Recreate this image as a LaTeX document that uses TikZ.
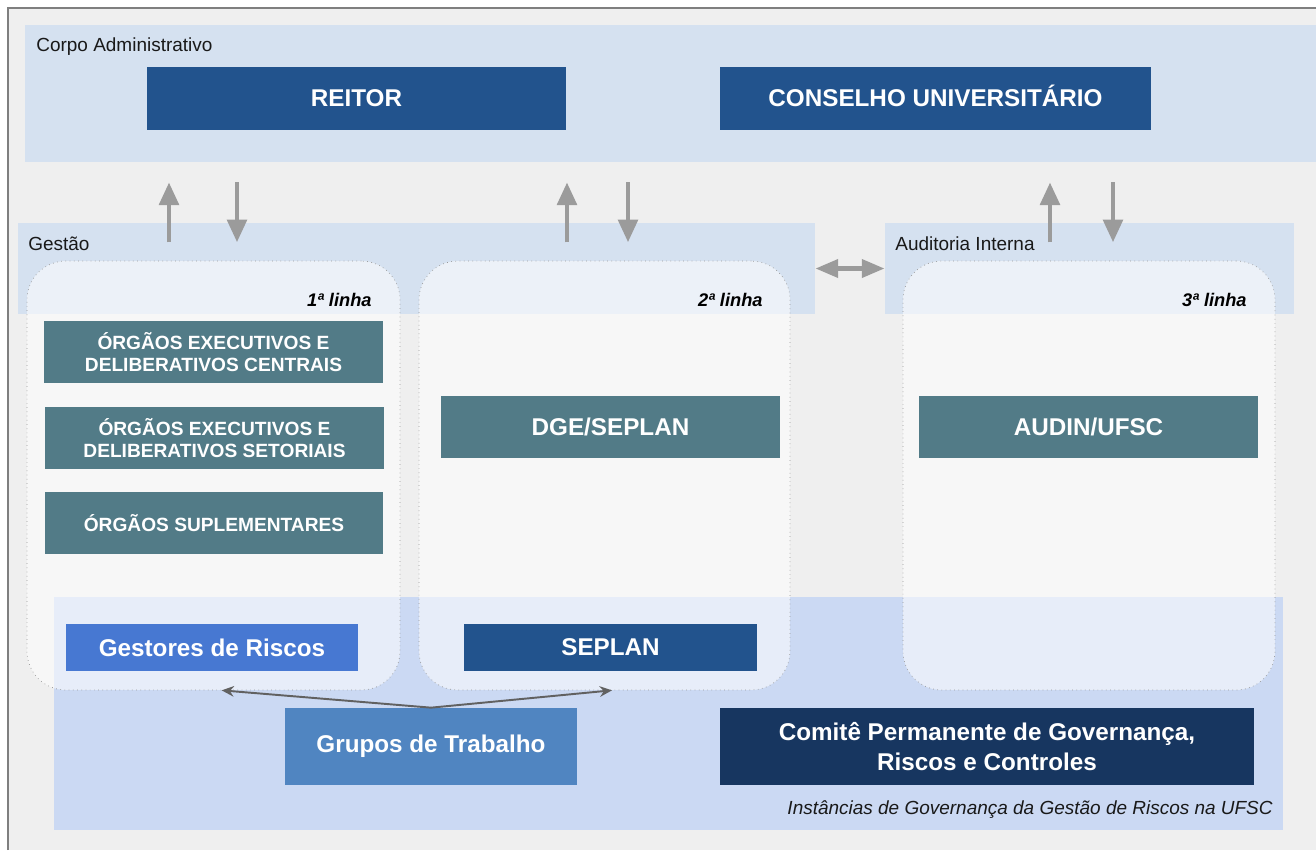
\documentclass[tikz,border=0pt]{standalone}
\usepackage{fontspec}
\setmainfont{Liberation Sans}
\usetikzlibrary{arrows.meta}

\definecolor{fundo}{HTML}{EFEFEF}
\definecolor{moldura}{HTML}{7F7F7F}
\definecolor{faixaazul}{HTML}{D5E1F0}
\definecolor{faixabaixo}{HTML}{CBD9F3}
\definecolor{azulescuro}{HTML}{22538D}
\definecolor{petroleo}{HTML}{527B87}
\definecolor{azulclaro}{HTML}{4778D2}
\definecolor{azulmedio}{HTML}{5085C1}
\definecolor{marinho}{HTML}{173660}
\definecolor{setacinza}{HTML}{9B9B9B}
\definecolor{ligacinza}{HTML}{616161}

\begin{document}
\begin{tikzpicture}[x=0.02cm,y=-0.02cm,
    faixa/.style={fill=faixaazul,inner sep=0pt},
    linhabox/.style={draw=gray!80,dotted,fill=white,fill opacity=0.55,rounded corners=22pt,inner sep=0pt},
    caixa/.style={fill=#1,text=white,align=center,inner sep=0pt,font=\bfseries\fontsize{13.8}{17}\selectfont},
    orgao/.style={caixa=petroleo,minimum width=6.78cm,minimum height=1.24cm,font=\bfseries\fontsize{10.9}{12.5}\selectfont},
    rotulo/.style={text=black!90,inner sep=0pt,font=\fontsize{10.8}{13}\selectfont},
    ordem/.style={inner sep=0pt,font=\bfseries\itshape\fontsize{10.4}{13}\selectfont},
    seta/.style={draw=setacinza,line width=2.8pt,-{Triangle[width=11pt,length=13pt]}},
    setadupla/.style={draw=setacinza,line width=2.8pt,{Triangle[width=10pt,length=13pt]}-{Triangle[width=10pt,length=13pt]}},
    liga/.style={draw=ligacinza,line width=1.1pt,-{Stealth[width=6pt,length=7pt]}}]
    \useasboundingbox (0,0) rectangle (1316,850);
    \fill[white] (0,0) rectangle (1316,850);
    \fill[fundo] (8,8) rectangle (1316,850);
    \draw[moldura,line width=1.2pt] (8,850) -- (8,8) -- (1316,8);

    % faixas
    \node[faixa,minimum width=25.82cm,minimum height=2.74cm] (corpo) at (670.5,93.5) {};
    \node[faixa,minimum width=15.94cm,minimum height=1.82cm] (gestao) at (416.5,268.5) {};
    \node[faixa,minimum width=8.18cm,minimum height=1.82cm] (auditoria) at (1089.5,268.5) {};
    \node[faixa,fill=faixabaixo,minimum width=24.58cm,minimum height=4.66cm] (instancias) at (668.5,713.5) {};

    \node[rotulo,anchor=west] (lcorpo) at (36,47) {Corpo Administrativo};
    \node[rotulo,anchor=west] (lgestao) at (28,244) {Gestão};
    \node[rotulo,anchor=west] (laudit) at (895,244) {Auditoria Interna};

    % linhas de defesa
    \node[linhabox,minimum width=7.46cm,minimum height=8.58cm] (linha1) at (213.5,475.5) {};
    \node[linhabox,minimum width=7.42cm,minimum height=8.58cm] (linha2) at (604.5,475.5) {};
    \node[linhabox,minimum width=7.44cm,minimum height=8.58cm] (linha3) at (1089,475.5) {};
    \node[ordem,anchor=east] (ord1) at (372,300) {1ª linha};
    \node[ordem,anchor=east] (ord2) at (763,300) {2ª linha};
    \node[ordem,anchor=east] (ord3) at (1247,300) {3ª linha};

    \node[caixa=azulescuro,minimum width=8.38cm,minimum height=1.26cm] (reitor) at (356.5,98.5) {REITOR};
    \node[caixa=azulescuro,minimum width=8.62cm,minimum height=1.26cm] (conselho) at (935.5,98.5) {CONSELHO UNIVERSIT\smash{Á}RIO};

    \node[orgao] (centrais) at (213.5,352) {ÓRGÃOS EXECUTIVOS E\\DELIBERATIVOS CENTRAIS};
    \node[orgao] (setoriais) at (214.5,438) {ÓRGÃOS EXECUTIVOS E\\DELIBERATIVOS SETORIAIS};
    \node[orgao] (suplem) at (214,523) {ÓRGÃOS SUPLEMENTARES};
    \node[orgao,font=\bfseries\fontsize{13.8}{17}\selectfont] (dge) at (610.5,427) {DGE/SEPLAN};
    \node[orgao,font=\bfseries\fontsize{13.8}{17}\selectfont] (audin) at (1088.5,427) {AUDIN/UFSC};

    \node[caixa=azulclaro,minimum width=5.84cm,minimum height=0.94cm] (gestores) at (212,647.5) {Gestores de Riscos};
    \node[caixa=azulescuro,minimum width=5.86cm,minimum height=0.94cm] (seplan) at (610.5,647.5) {SEPLAN};
    \node[caixa=azulmedio,minimum width=5.84cm,minimum height=1.54cm] (grupos) at (431,746.5) {Grupos de Trabalho};
    \node[caixa=marinho,minimum width=10.68cm,minimum height=1.54cm] (comite) at (987,746.5) {Comitê Permanente de Governança,\\Riscos e Controles};
    \node[rotulo,font=\itshape\fontsize{10.8}{13}\selectfont,anchor=east] (legenda) at (1273,810) {Instâncias de Governança da Gestão de Riscos na UFSC};

    % setas
    \foreach \a/\b in {169/237,567/628,1050/1113}{
        \path (corpo.south -| \a,0) ++(0,80) coordinate (sobe) ++(0,-60) coordinate (topo);
        \draw[seta] (sobe) -- (topo);
        \path (corpo.south -| \b,0) ++(0,20) coordinate (desce) ++(0,60) coordinate (fim);
        \draw[seta] (desce) -- (fim);
    }
    \draw[setadupla] (gestao.east) -- (auditoria.west);
    \draw[liga] (grupos.north) -- ([xshift=4.6pt]linha1.south);
    \draw[liga] (grupos.north) -- ([xshift=4.3pt]linha2.south);
\end{tikzpicture}
\end{document}
